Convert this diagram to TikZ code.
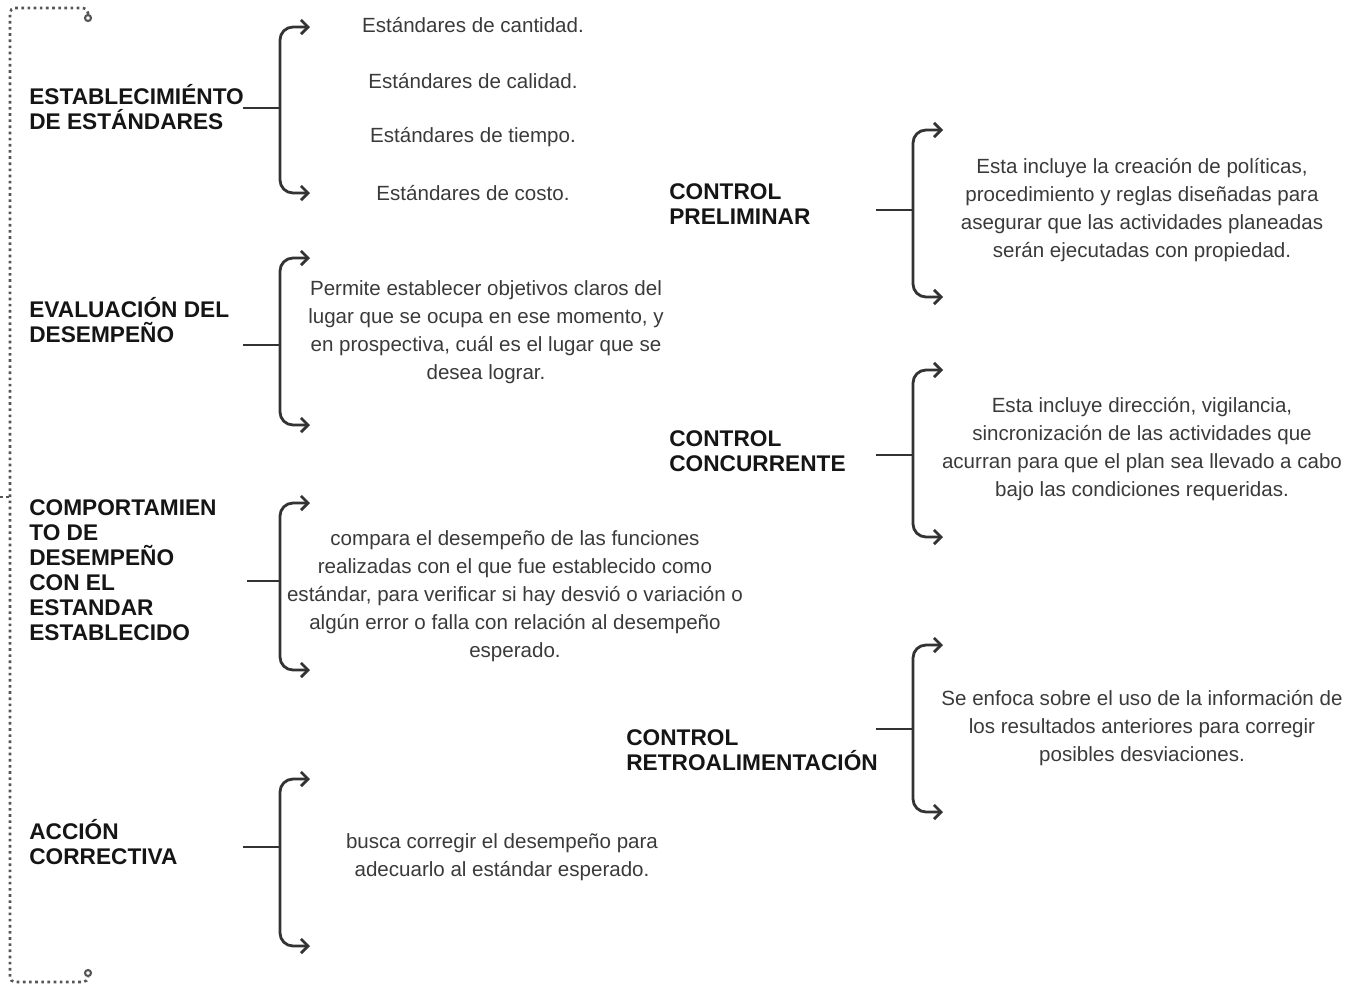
\documentclass[tikz,border=0pt]{standalone}
\usepackage{fontspec}
\setmainfont{Liberation Sans}
\usepackage{xcolor}
\definecolor{labelblack}{HTML}{151515}
\definecolor{textgray}{HTML}{3a3a3a}
\definecolor{linegray}{HTML}{333333}
\definecolor{dotgray}{HTML}{555555}
\usetikzlibrary{arrows.meta, positioning}

\begin{document}
\begin{tikzpicture}[x=0.02cm, y=-0.02cm,
  headlbl/.style={anchor=west, align=left, inner sep=0pt,
    font=\fontsize{12.9}{14.2}\selectfont\bfseries, text=labelblack},
  desc/.style={align=center, inner sep=0pt,
    font=\fontsize{11.7}{15.9}\selectfont, text=textgray},
  brace/.style={{Straight Barb[length=4pt,width=8pt]}-{Straight Barb[length=4pt,width=8pt]},
    line width=1.6pt, draw=linegray, rounded corners=2.6mm},
  stub/.style={line width=1.6pt, draw=linegray}
]
\useasboundingbox (0,0) rectangle (1352,985);

% Outer dotted bracket
\draw[dotted, line width=1.5pt, dotgray, rounded corners=1mm]
  (88,14) -- (88,8) -- (10,8) -- (10,982) -- (88,982) -- (88,977);
\draw[dotgray, line width=1.2pt] (88,18) circle (3) (88,973) circle (3);
\draw[dotted, line width=1.5pt, dotgray] (0,497) -- (10,497);

% Left column
\node[headlbl] (est) at (29,107) {ESTABLECIMIÉNTO\\DE ESTÁNDARES};
\node[headlbl] (eva) at (29,320) {EVALUACIÓN DEL\\DESEMPEÑO};
\node[headlbl] (comp) at (29,570) {COMPORTAMIEN\\TO DE\\DESEMPEÑO\\CON EL\\ESTANDAR\\ESTABLECIDO};
\node[headlbl] (acc) at (29,842) {ACCIÓN\\CORRECTIVA};

\coordinate (est-s) at (243,108);  \coordinate (est-b) at (280,108);
\coordinate (est-t) at (310,27);   \coordinate (est-u) at (310,193);
\coordinate (eva-s) at (243,345);  \coordinate (eva-b) at (280,345);
\coordinate (eva-t) at (310,258);  \coordinate (eva-u) at (310,425);
\coordinate (comp-s) at (247,581); \coordinate (comp-b) at (280,581);
\coordinate (comp-t) at (310,503); \coordinate (comp-u) at (310,670);
\coordinate (acc-s) at (243,847);  \coordinate (acc-b) at (280,847);
\coordinate (acc-t) at (310,779);  \coordinate (acc-u) at (310,946);

\foreach \n in {est, eva, comp, acc} {
  \draw[stub] (\n-s) -- (\n-b);
  \draw[brace] (\n-t) -| (\n-u -| \n-b) -- (\n-u);
}

\node[desc] (tcant) at (473,25) {Estándares de cantidad.};
\node[desc] (tcal) at (473,81) {Estándares de calidad.};
\node[desc] (ttiem) at (473,137) {Estándares de tiempo.};
\node[desc] (tcost) at (473,193) {Estándares de costo.};
\node[desc] (teva) at (486,332) {Permite establecer objetivos claros del\\lugar que se ocupa en ese momento, y\\en prospectiva, cuál es el lugar que se\\desea lograr.};
\node[desc] (tcomp) at (515,596) {compara el desempeño de las funciones\\realizadas con el que fue establecido como\\estándar, para verificar si hay desvió o variación o\\algún error o falla con relación al desempeño\\esperado.};
\node[desc] (tacc) at (502,857) {busca corregir el desempeño para\\adecuarlo al estándar esperado.};

% Right column
\node[headlbl] (cpre) at (669,204) {CONTROL\\PRELIMINAR};
\node[headlbl] (cconc) at (669,451) {CONTROL\\CONCURRENTE};
\node[headlbl] (cretro) at (626,750) {CONTROL\\RETROALIMENTACIÓN};

\coordinate (cpre-s) at (876,210);   \coordinate (cpre-b) at (913,210);
\coordinate (cpre-t) at (943,130);   \coordinate (cpre-u) at (943,297);
\coordinate (cconc-s) at (876,455);  \coordinate (cconc-b) at (913,455);
\coordinate (cconc-t) at (943,370);  \coordinate (cconc-u) at (943,537);
\coordinate (cretro-s) at (876,729); \coordinate (cretro-b) at (913,729);
\coordinate (cretro-t) at (943,645); \coordinate (cretro-u) at (943,812);

\foreach \n in {cpre, cconc, cretro} {
  \draw[stub] (\n-s) -- (\n-b);
  \draw[brace] (\n-t) -| (\n-u -| \n-b) -- (\n-u);
}

\node[desc] (tpre) at (1142,210) {Esta incluye la creación de políticas,\\procedimiento y reglas diseñadas para\\asegurar que las actividades planeadas\\serán ejecutadas con propiedad.};
\node[desc] (tconc) at (1142,449) {Esta incluye dirección, vigilancia,\\sincronización de las actividades que\\acurran para que el plan sea llevado a cabo\\bajo las condiciones requeridas.};
\node[desc] (tretro) at (1142,728) {Se enfoca sobre el uso de la información de\\los resultados anteriores para corregir\\posibles desviaciones.};
\end{tikzpicture}
\end{document}
